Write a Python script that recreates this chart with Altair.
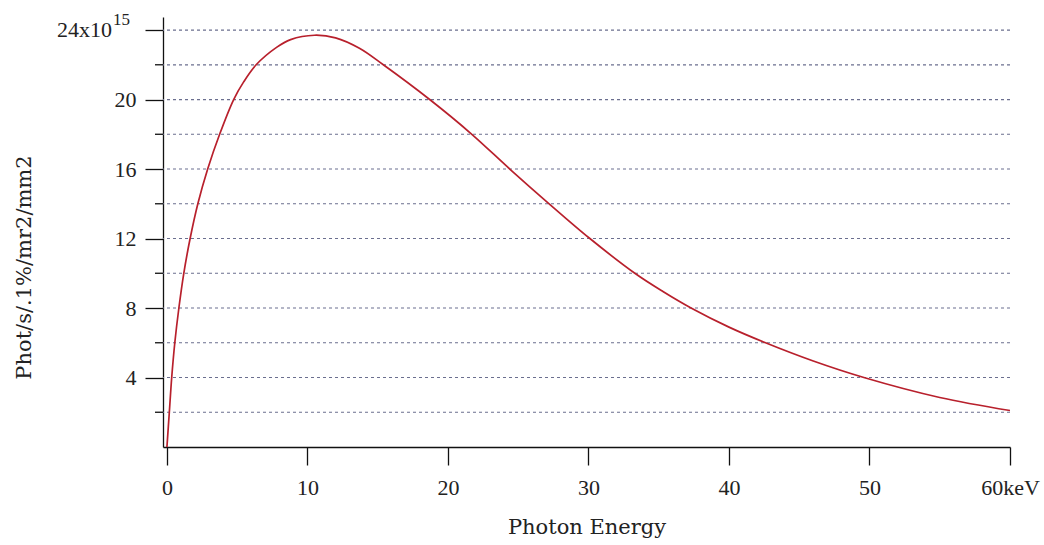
import altair as alt
import pandas as pd

# Photon energy (keV) and flux (x10^15 phot/s/.1%/mr2/mm2) along the spectrum curve
energy = [0.0, 0.17, 0.34, 0.56, 0.85, 1.20, 1.65, 2.20, 2.90, 3.75, 4.75, 5.45,
          6.35, 7.8, 8.8, 10.5, 12.0, 13.7, 15.4, 18.7, 21.7, 24.4, 27.2, 30.1,
          33.3, 35.3, 37.3, 40.0, 42.6, 46.0, 49.6, 55.0, 60.0]
flux = [0.0, 2.0, 4.0, 6.0, 8.0, 10.0, 12.0, 14.0, 16.0, 18.0, 20.0, 21.0,
        22.0, 23.0, 23.45, 23.7, 23.55, 22.95, 22.0, 20.0, 18.0, 16.0, 14.0, 12.0,
        10.0, 8.95, 8.0, 6.9, 6.0, 4.95, 4.0, 2.85, 2.1]

x_ticks = [0, 10, 20, 30, 40, 50, 60]
y_major = [4, 8, 12, 16, 20, 24]
y_minor = [2, 6, 10, 14, 18, 22]
y_grid = [2, 4, 6, 8, 10, 12, 14, 16, 18, 20, 22, 24]

curve = pd.DataFrame({"energy": energy, "flux": flux})
grid_df = pd.DataFrame({"v": y_grid})
minor_df = pd.DataFrame({"v": y_minor})
top_df = pd.DataFrame({"v": [24], "base": ["24x10"], "exp": ["15"]})

x_scale = alt.Scale(domain=[-0.28, 60], nice=False, zero=False)
y_scale = alt.Scale(domain=[0, 24.75], nice=False, zero=False)

serif = "Liberation Serif"
title_font = "DejaVu Serif"

y_axis = alt.Axis(
    values=y_major, format="d", tickSize=18, tickColor="#111", tickWidth=1.3,
    domainColor="#111", domainWidth=1.3, grid=False,
    labelFont=serif, labelFontSize=22, labelColor="#222", labelPadding=9,
    labelExpr="datum.value == 24 ? '' : datum.label",
    title="Phot/s/.1%/mr2/mm2", titleFont=title_font, titleFontSize=21,
    titleFontWeight="normal", titleColor="#222", titleAngle=270,
    titleBaseline="middle", titleX=-139, titleY=250,
)

x_axis = alt.Axis(
    values=x_ticks, format="d", tickSize=18, tickColor="#111", tickWidth=1.3,
    domainColor="#111", domainWidth=1.3, grid=False,
    labelFont=serif, labelFontSize=22, labelColor="#222", labelPadding=12,
    labelExpr="datum.value == 60 ? '60keV' : datum.label",
    labelFlush=False, labelOverlap=False, labelBound=False,
    title="Photon Energy", titleFont=title_font, titleFontSize=21,
    titleFontWeight="normal", titleColor="#222", titleY=86,
    titleBaseline="alphabetic",
)

gridlines = alt.Chart(grid_df).mark_rule(
    color="#6b6f8f", strokeWidth=1.2, strokeDash=[3, 3]
).encode(y=alt.Y("v:Q", scale=y_scale, axis=y_axis))

line = alt.Chart(curve).mark_line(
    color="#b8202c", strokeWidth=1.7, interpolate="catmull-rom"
).encode(
    x=alt.X("energy:Q", scale=x_scale, axis=x_axis),
    y=alt.Y("flux:Q", scale=y_scale, axis=y_axis),
)

minor_ticks = alt.Chart(minor_df).mark_rule(color="#111", strokeWidth=1.3).encode(
    y=alt.Y("v:Q", scale=y_scale, axis=y_axis),
    x=alt.value(-8),
    x2=alt.value(0),
)

top_base = alt.Chart(top_df).mark_text(
    font=serif, fontSize=22, color="#222", align="right", baseline="middle"
).encode(
    y=alt.Y("v:Q", scale=y_scale, axis=y_axis),
    x=alt.value(-51),
    text="base:N",
)

top_exp = alt.Chart(top_df).mark_text(
    font=serif, fontSize=17, color="#222", align="left", baseline="middle", dy=-10
).encode(
    y=alt.Y("v:Q", scale=y_scale, axis=y_axis),
    x=alt.value(-50),
    text="exp:N",
)

chart = alt.layer(gridlines, line, minor_ticks, top_base, top_exp).properties(
    width=847,
    height=430,
    autosize="none",
    padding={"left": 163, "top": 17, "right": 34, "bottom": 98},
    background="white",
).configure_view(stroke=None)

chart.save("out.html", embed_options={"renderer": "svg", "actions": False})
